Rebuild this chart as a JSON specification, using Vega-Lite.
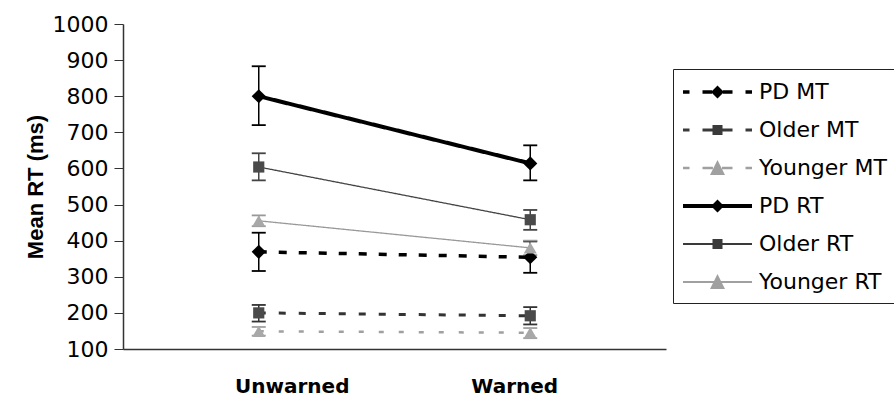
{
  "$schema": "https://vega.github.io/schema/vega-lite/v6.json",
  "width": 543,
  "height": 325,
  "autosize": {"type": "none"},
  "padding": {"left": 123, "top": 24, "right": 228, "bottom": 49},
  "background": "white",
  "config": {
    "view": {"stroke": null},
    "font": "DejaVu Sans",
    "axisY": {
      "titleFont": "Liberation Sans",
      "titleFontSize": 22,
      "titleFontWeight": "bold",
      "titleColor": "black",
      "titlePadding": 5,
      "labelFont": "DejaVu Sans",
      "labelFontSize": 22,
      "labelColor": "black",
      "labelPadding": 6,
      "tickSize": 9,
      "tickColor": "#333",
      "domainColor": "#333",
      "domainWidth": 1.5,
      "grid": false,
      "labelFlush": false,
      "labelOverlap": false,
      "tickCount": 10,
      "format": "d"
    },
    "axisX": {
      "ticks": false,
      "domainColor": "#333",
      "domainWidth": 1.5,
      "labelFont": "DejaVu Sans",
      "labelFontSize": 20,
      "labelFontWeight": "bold",
      "labelColor": "black",
      "labelPadding": 27,
      "labelAngle": 0,
      "grid": false
    }
  },
  "data": {
    "values": [
      {"cond": "Unwarned", "series": "PD MT", "mean": 369, "lo": 316, "hi": 422},
      {"cond": "Warned", "series": "PD MT", "mean": 354, "lo": 311, "hi": 398},
      {"cond": "Unwarned", "series": "Older MT", "mean": 200, "lo": 176, "hi": 222},
      {"cond": "Warned", "series": "Older MT", "mean": 192, "lo": 168, "hi": 216},
      {"cond": "Unwarned", "series": "Younger MT", "mean": 149, "lo": 137, "hi": 161},
      {"cond": "Warned", "series": "Younger MT", "mean": 145, "lo": 130, "hi": 158},
      {"cond": "Unwarned", "series": "PD RT", "mean": 800, "lo": 720, "hi": 883},
      {"cond": "Warned", "series": "PD RT", "mean": 614, "lo": 567, "hi": 664},
      {"cond": "Unwarned", "series": "Older RT", "mean": 604, "lo": 567, "hi": 642},
      {"cond": "Warned", "series": "Older RT", "mean": 458, "lo": 430, "hi": 485},
      {"cond": "Unwarned", "series": "Younger RT", "mean": 455, "lo": 440, "hi": 470},
      {"cond": "Warned", "series": "Younger RT", "mean": 380, "lo": 360, "hi": 400}
    ]
  },
  "encoding": {
    "x": {
      "field": "cond",
      "type": "nominal",
      "scale": {"type": "point", "domain": ["Unwarned", "Warned"], "padding": 0.5},
      "axis": {
        "title": null,
        "labelOffset": {"condition": {"test": "datum.label == 'Unwarned'", "value": 33}, "value": -16}
      }
    }
  },
  "resolve": {"scale": {"shape": "independent", "color": "independent"}},
  "layer": [
    {
      "mark": {"type": "rule", "strokeWidth": 1.5},
      "encoding": {
        "y": {"field": "lo", "type": "quantitative", "scale": {"domain": [100, 1000], "nice": false, "zero": false}, "title": "Mean RT (ms)"},
        "y2": {"field": "hi"},
        "stroke": {"field": "series", "type": "nominal", "legend": null}
      }
    },
    {
      "mark": {"type": "rule", "strokeWidth": 1.8, "xOffset": -7, "x2Offset": 7},
      "encoding": {
        "x2": {"field": "cond"},
        "y": {"field": "lo", "type": "quantitative", "title": "Mean RT (ms)"},
        "stroke": {"field": "series", "type": "nominal", "legend": null}
      }
    },
    {
      "mark": {"type": "rule", "strokeWidth": 1.8, "xOffset": -7, "x2Offset": 7},
      "encoding": {
        "x2": {"field": "cond"},
        "y": {"field": "hi", "type": "quantitative", "title": "Mean RT (ms)"},
        "stroke": {"field": "series", "type": "nominal", "legend": null}
      }
    },
    {
      "mark": {"type": "line"},
      "encoding": {
        "y": {"field": "mean", "type": "quantitative", "title": "Mean RT (ms)"},
        "detail": {"field": "series", "type": "nominal"},
        "stroke": {"field": "series", "type": "nominal", "legend": null,
          "scale": {"domain": ["PD MT", "Older MT", "Younger MT", "PD RT", "Older RT", "Younger RT"],
                    "range": ["#000000", "#333333", "#a0a0a0", "#000000", "#444444", "#999999"]}},
        "strokeDash": {"field": "series", "type": "nominal", "legend": null,
          "scale": {"domain": ["PD MT", "Older MT", "Younger MT", "PD RT", "Older RT", "Younger RT"],
                    "range": [[8, 12], [7, 13], [5, 15], [1, 0], [1, 0], [1, 0]]}},
        "strokeWidth": {"field": "series", "type": "nominal", "legend": null,
          "scale": {"type": "ordinal", "domain": ["PD MT", "Older MT", "Younger MT", "PD RT", "Older RT", "Younger RT"],
                    "range": [3.5, 3, 2.5, 4, 1.3, 1.3]}}
      }
    },
    {
      "mark": {"type": "point", "filled": true, "opacity": 1},
      "encoding": {
        "y": {"field": "mean", "type": "quantitative", "title": "Mean RT (ms)"},
        "color": {"field": "series", "type": "nominal", "legend": null,
          "scale": {"domain": ["PD MT", "Older MT", "Younger MT", "PD RT", "Older RT", "Younger RT"],
                    "range": ["#000000", "#4a4a4a", "#a8a8a8", "#000000", "#4a4a4a", "#a8a8a8"]}},
        "shape": {"field": "series", "type": "nominal", "legend": null,
          "scale": {"domain": ["PD MT", "Older MT", "Younger MT", "PD RT", "Older RT", "Younger RT"],
                    "range": ["diamond", "square", "triangle-up", "diamond", "square", "triangle-up"]}},
        "size": {"field": "series", "type": "nominal", "legend": null,
          "scale": {"type": "ordinal", "domain": ["PD MT", "Older MT", "Younger MT", "PD RT", "Older RT", "Younger RT"],
                    "range": [200, 125, 170, 200, 125, 170]}}
      }
    },
    {
      "mark": {"type": "point", "filled": true, "opacity": 0},
      "encoding": {
        "y": {"field": "mean", "type": "quantitative", "title": "Mean RT (ms)"},
        "color": {"field": "series", "type": "nominal",
          "scale": {"domain": ["PD MT", "Older MT", "Younger MT", "PD RT", "Older RT", "Younger RT"],
                    "range": ["#000000", "#3a3a3a", "#a0a0a0", "#000000", "#3a3a3a", "#a0a0a0"]},
          "legend": {
            "orient": "none",
            "legendX": 550,
            "legendY": 45,
            "title": null,
            "labelFont": "DejaVu Sans",
            "labelFontSize": 22,
            "labelColor": "black",
            "labelLimit": 300,
            "labelOffset": 50,
            "symbolSize": 676,
            "symbolOpacity": 1,
            "symbolStrokeWidth": 0,
            "symbolFillColor": "black",
            "strokeColor": "#222",
            "fillColor": "white",
            "padding": 10,
            "rowPadding": 14
          }
        },
        "shape": {"field": "series", "type": "nominal",
          "scale": {"domain": ["PD MT", "Older MT", "Younger MT", "PD RT", "Older RT", "Younger RT"],
                    "range": [
                      "M-1,-0.131H-0.5V0.131H-1Z M0.5,-0.131H1.231V0.131H0.5Z M2.077,-0.131H2.808V0.131H2.077Z M3.808,-0.131H4.308V0.131H3.808Z M1.654,-0.5L2.154,0L1.654,0.5L1.154,0Z",
                      "M-1,-0.108H-0.5V0.108H-1Z M0.5,-0.108H1.3V0.108H0.5Z M2.0,-0.108H2.808V0.108H2.0Z M3.808,-0.108H4.308V0.108H3.808Z M1.269,-0.385H2.039V0.385H1.269Z",
                      "M-1,-0.092H-0.5V0.092H-1Z M0.5,-0.092H1.3V0.092H0.5Z M2.0,-0.092H2.808V0.092H2.0Z M3.808,-0.092H4.308V0.092H3.808Z M1.654,-0.615L2.231,0.538H1.077Z",
                      "M-1,-0.162H4.308V0.162H-1Z M1.654,-0.5L2.154,0L1.654,0.5L1.154,0Z",
                      "M-1,-0.069H4.308V0.069H-1Z M1.269,-0.385H2.039V0.385H1.269Z",
                      "M-1,-0.069H4.308V0.069H-1Z M1.654,-0.615L2.231,0.538H1.077Z"
                    ]},
          "legend": {
            "orient": "none",
            "legendX": 550,
            "legendY": 45,
            "title": null,
            "labelFont": "DejaVu Sans",
            "labelFontSize": 22,
            "labelColor": "black",
            "labelLimit": 300,
            "labelOffset": 50,
            "symbolSize": 676,
            "symbolOpacity": 1,
            "symbolStrokeWidth": 0,
            "symbolFillColor": "black",
            "strokeColor": "#222",
            "fillColor": "white",
            "padding": 10,
            "rowPadding": 14
          }
        }
      }
    }
  ]
}
